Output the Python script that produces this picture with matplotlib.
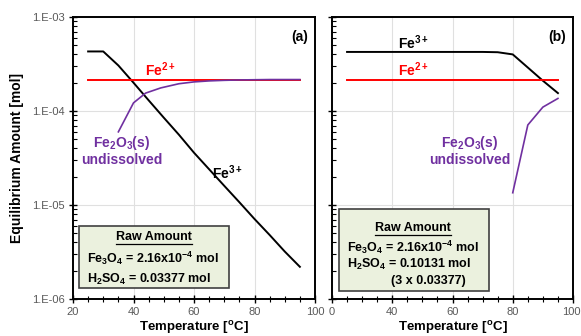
import numpy as np
import matplotlib.pyplot as plt
from matplotlib.ticker import LogLocator, NullFormatter, MultipleLocator
from matplotlib.patches import Rectangle
from matplotlib.lines import Line2D
from matplotlib.transforms import ScaledTranslation

plt.rcParams['font.family'] = ['Liberation Sans', 'DejaVu Sans']
plt.rcParams['mathtext.fontset'] = 'custom'
plt.rcParams['mathtext.rm'] = 'Liberation Sans'
plt.rcParams['mathtext.bf'] = 'Liberation Sans:bold'

# panel (a): H2SO4 = 0.03377 mol
temp_a = [25, 30, 35, 40, 45, 50, 55, 60, 65, 70, 75, 80, 85, 90, 95]
fe3_a = [4.3e-4, 4.3e-4, 3.05e-4, 2.0e-4, 1.3e-4, 8.5e-5, 5.6e-5, 3.6e-5,
         2.4e-5, 1.6e-5, 1.07e-5, 7.1e-6, 4.8e-6, 3.2e-6, 2.2e-6]
fe2_temp_a = [25, 95]
fe2_a = [2.16e-4, 2.16e-4]
fe2o3_temp_a = [35, 40, 44, 49, 55, 60, 65, 70, 75, 80, 85, 90, 95]
fe2o3_a = [6.0e-5, 1.22e-4, 1.55e-4, 1.76e-4, 1.95e-4, 2.04e-4, 2.09e-4,
           2.12e-4, 2.14e-4, 2.15e-4, 2.16e-4, 2.16e-4, 2.16e-4]

# panel (b): H2SO4 = 0.10131 mol
temp_b = [25, 30, 40, 50, 60, 70, 75, 80, 85, 90, 95]
fe3_b = [4.25e-4, 4.25e-4, 4.25e-4, 4.25e-4, 4.25e-4, 4.25e-4, 4.22e-4,
         4.0e-4, 2.9e-4, 2.1e-4, 1.55e-4]
fe2_temp_b = [25, 95]
fe2_b = [2.16e-4, 2.16e-4]
fe2o3_temp_b = [80, 85, 90, 95]
fe2o3_b = [1.35e-5, 7.1e-5, 1.1e-4, 1.36e-4]

xticks = [20, 40, 60, 80, 100]
yticks = [1e-6, 1e-5, 1e-4, 1e-3]
ytick_labels = ['1.E-06', '1.E-05', '1.E-04', '1.E-03']

black = '#000000'
red = '#ff0000'
purple = '#7030a0'
gray = '#595959'

fig = plt.figure(figsize=(5.81, 3.36), dpi=100)
ax1 = fig.add_axes([73/581, 1-299/336, 242/581, 282/336])
ax2 = fig.add_axes([332/581, 1-299/336, 241/581, 282/336])

for ax in (ax1, ax2):
    ax.set_yscale('log')
    ax.set_xlim(20, 100)
    ax.set_ylim(1e-6, 1e-3)
    ax.set_xticks(xticks)
    ax.set_yticks(yticks)
    ax.xaxis.set_minor_locator(MultipleLocator(5))
    ax.yaxis.set_minor_locator(LogLocator(base=10, subs=np.arange(2, 10)))
    ax.yaxis.set_minor_formatter(NullFormatter())
    ax.grid(True, which='major', color='#e0e0e0', lw=0.8)
    ax.set_axisbelow(True)
    for s in ax.spines.values():
        s.set_linewidth(1.4)
    ax.tick_params(which='major', direction='inout', length=6, width=1.0,
                   labelsize=8, labelcolor=gray, pad=3)
    ax.tick_params(which='minor', direction='in', length=3, width=0.8)
    ax.tick_params(axis='x', which='minor', direction='inout', length=4)
    ax.set_xlabel('Temperature [$\\mathbf{^{o}}$C]', fontsize=9.5,
                  fontweight='bold', labelpad=1)

ax1.set_yticklabels(ytick_labels)
ax1.set_ylabel('Equilibrium Amount [mol]', fontsize=10, fontweight='bold',
               labelpad=6)
ax2.set_yticklabels([])
ax2.set_xticklabels(['0', '40', '60', '80', '100'])
last = ax2.xaxis.get_major_ticks()[-1].label1
last.set_transform(last.get_transform() +
                   ScaledTranslation(-2/100, 0, fig.dpi_scale_trans))

# panel (a)
ax1.plot(temp_a, fe3_a, color=black, lw=1.4)
ax1.plot(fe2_temp_a, fe2_a, color=red, lw=1.4)
ax1.plot(fe2o3_temp_a, fe2o3_a, color=purple, lw=1.2)
ax1.text(0.97, 0.93, '(a)', transform=ax1.transAxes, ha='right', va='center',
         fontsize=10, fontweight='bold')
ax1.text(49, 2.75e-4, r'$\mathbf{Fe^{2+}}$', color=red, fontsize=10,
         ha='center', va='center')
ax1.text(71, 2.2e-5, r'$\mathbf{Fe^{3+}}$', color=black, fontsize=10,
         ha='center', va='center')
ax1.text(36.2, 4.6e-5, r'$\mathbf{Fe_2O_3(s)}$', color=purple, fontsize=10,
         ha='center', va='center')
ax1.text(36.2, 3.0e-5, 'undissolved', color=purple, fontsize=10,
         fontweight='bold', ha='center', va='center')

# panel (b)
ax2.plot(temp_b, fe3_b, color=black, lw=1.4)
ax2.plot(fe2_temp_b, fe2_b, color=red, lw=1.4)
ax2.plot(fe2o3_temp_b, fe2o3_b, color=purple, lw=1.2)
ax2.text(0.97, 0.93, '(b)', transform=ax2.transAxes, ha='right', va='center',
         fontsize=10, fontweight='bold')
ax2.text(47, 5.3e-4, r'$\mathbf{Fe^{3+}}$', color=black, fontsize=10,
         ha='center', va='center')
ax2.text(47, 2.75e-4, r'$\mathbf{Fe^{2+}}$', color=red, fontsize=10,
         ha='center', va='center')
ax2.text(65.8, 4.6e-5, r'$\mathbf{Fe_2O_3(s)}$', color=purple, fontsize=10,
         ha='center', va='center')
ax2.text(65.8, 3.0e-5, 'undissolved', color=purple, fontsize=10,
         fontweight='bold', ha='center', va='center')


def px(x, y):
    return x / 581, 1 - y / 336


def raw_box(x0, y0, x1, y1, cx, ty, lines):
    fx0, fy1 = px(x0, y0)
    fx1, fy0 = px(x1, y1)
    fig.patches.append(Rectangle((fx0, fy0), fx1 - fx0, fy1 - fy0,
                                 transform=fig.transFigure, facecolor='#ebf1de',
                                 edgecolor='#404040', lw=1.2, zorder=5))
    fig.text(*px(cx, ty), 'Raw Amount', fontsize=9, fontweight='bold',
             ha='center', va='center', zorder=6)
    ux0, uy = px(cx - 38, ty + 7)
    ux1, _ = px(cx + 38, ty + 7)
    fig.lines.append(Line2D([ux0, ux1], [uy, uy], transform=fig.transFigure,
                            color='black', lw=0.9, zorder=6))
    for lx, ly, s in lines:
        fig.text(*px(lx, ly), s, fontsize=9, fontweight='bold',
                 ha='left', va='center', zorder=6)


fe3o4_txt = r'Fe$\mathbf{_3}$O$\mathbf{_4}$ = 2.16x10$\mathbf{^{-4}}$ mol'
raw_box(79, 226, 229, 288, 154, 237,
        [(87, 258, fe3o4_txt),
         (87, 279, r'H$\mathbf{_2}$SO$\mathbf{_4}$ = 0.03377 mol')])
raw_box(339, 209, 489, 291, 413, 228,
        [(347, 247, fe3o4_txt),
         (347, 264, r'H$\mathbf{_2}$SO$\mathbf{_4}$ = 0.10131 mol'),
         (391, 281, '(3 x 0.03377)')])

fig.savefig('out.png', dpi=100)
